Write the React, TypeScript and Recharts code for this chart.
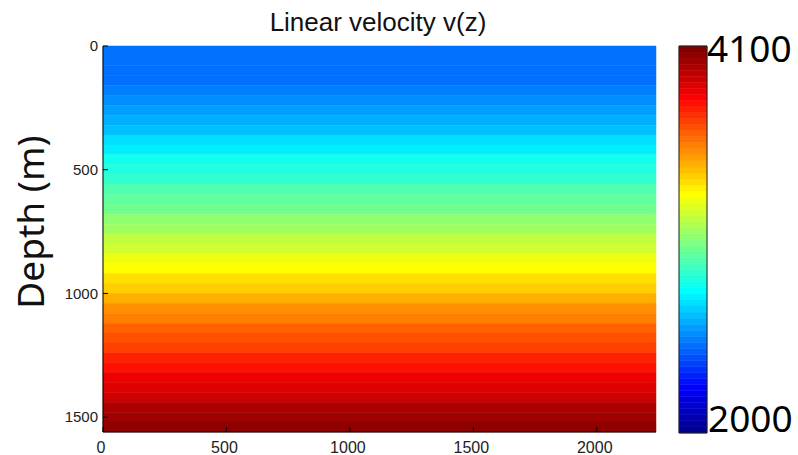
import React from 'react';
import { ComposedChart, XAxis, YAxis, ReferenceArea } from 'recharts';

const xTicks = [0, 500, 1000, 1500, 2000];
const depthTicks = [0, 500, 1000, 1500];
const colorbarTicks = [2200, 2400, 2600, 2800, 3000, 3200, 3400, 3600, 3800, 4000];
const xMax = 2240;
const depthMax = 1560;
const vMin = 2000;
const vMax = 4100;

// top of each 40 m layer (m)
const layerTops = [
  0, 40, 80, 120, 160, 200, 240, 280, 320, 360, 400, 440, 480,
  520, 560, 600, 640, 680, 720, 760, 800, 840, 880, 920, 960, 1000,
  1040, 1080, 1120, 1160, 1200, 1240, 1280, 1320, 1360, 1400, 1440, 1480, 1520,
];
// velocity read at the middle of each layer (m/s)
const layerVelocity = [
  2490, 2490, 2490, 2490, 2500, 2530, 2570, 2610, 2650, 2700, 2745, 2790, 2830,
  2875, 2920, 2965, 3010, 3060, 3110, 3160, 3210, 3260, 3310, 3360, 3410, 3460,
  3510, 3560, 3610, 3660, 3705, 3750, 3800, 3845, 3890, 3935, 3980, 4020, 4065,
];

// jet(64) colormap
function jetColor(v: number) {
  const idx = Math.min(63, Math.max(0, Math.floor(((v - vMin) / (vMax - vMin)) * 64)));
  const x = (idx + 1) / 64;
  const c = (a: number) => Math.round(255 * Math.min(1, Math.max(0, 1.5 - Math.abs(4 * x - a))));
  return `rgb(${c(3)},${c(2)},${c(1)})`;
}

const layers = layerTops.map((top, i) => ({
  top,
  bottom: i < layerTops.length - 1 ? layerTops[i + 1] : depthMax,
  v: layerVelocity[i],
}));

const colorLevels = Array.from({ length: 64 }, (_, i) => ({
  lo: vMin + (i * (vMax - vMin)) / 64,
  hi: vMin + ((i + 1) * (vMax - vMin)) / 64,
}));

const tickFont = '"Liberation Sans", Arial, sans-serif';
const bigFont = '"Noto Sans", "Open Sans", sans-serif';

const BottomTick = ({ x, y, payload }: any) => (
  <g>
    <line x1={x} y1={y} x2={x} y2={y - 5} stroke="#000" />
    <text x={x - 2} y={y + 21} textAnchor="middle" fontSize={16} fontFamily={tickFont} fill="#222">
      {payload.value}
    </text>
  </g>
);

const TopTick = ({ x, y }: any) => <line x1={x} y1={y} x2={x} y2={y + 5} stroke="#000" />;

const LeftTick = ({ x, y, payload }: any) => (
  <g>
    <line x1={x} y1={y} x2={x + 5} y2={y} stroke="#000" />
    <text x={x - 5} y={y} dy="0.35em" textAnchor="end" fontSize={15} fontFamily={tickFont} fill="#222">
      {payload.value}
    </text>
  </g>
);

const RightTick = ({ x, y }: any) => <line x1={x} y1={y} x2={x - 5} y2={y} stroke="#000" />;

export default function App() {
  return (
    <div style={{ position: 'absolute', left: 0, top: 0, width: 798, height: 455, background: '#fff' }}>
      <div style={{ position: 'absolute', left: 0, top: 0 }}>
        <ComposedChart width={798} height={455} data={layers} margin={{ top: 46, right: 142, bottom: 0, left: 53 }}>
          {layers.map((l, i) => (
            <ReferenceArea
              key={i}
              x1={0}
              x2={xMax}
              y1={l.top}
              y2={l.bottom}
              fill={jetColor(l.v)}
              fillOpacity={1}
              stroke={jetColor(l.v)}
              strokeWidth={0.5}
            />
          ))}
          <XAxis type="number" dataKey="v" domain={[0, xMax]} ticks={xTicks} allowDataOverflow height={23}
            tickSize={0} tickMargin={0} tickLine={false} axisLine={{ stroke: '#000' }} tick={<BottomTick />} interval={0} />
          <XAxis xAxisId="top" orientation="top" type="number" domain={[0, xMax]} ticks={xTicks} allowDataOverflow height={0}
            tickSize={0} tickMargin={0} tickLine={false} axisLine={{ stroke: '#000' }} tick={<TopTick />} interval={0} />
          <YAxis type="number" dataKey="top" domain={[0, depthMax]} reversed ticks={depthTicks} allowDataOverflow width={50}
            tickSize={0} tickMargin={0} tickLine={false} axisLine={{ stroke: '#000' }} tick={<LeftTick />} interval={0} />
          <YAxis yAxisId="right" orientation="right" type="number" domain={[0, depthMax]} reversed ticks={depthTicks} allowDataOverflow width={0}
            tickSize={0} tickMargin={0} tickLine={false} axisLine={{ stroke: '#000' }} tick={<RightTick />} interval={0} />
        </ComposedChart>
      </div>

      <div style={{ position: 'absolute', left: 670, top: 0 }}>
        <ComposedChart width={40} height={455} data={colorLevels} margin={{ top: 46, right: 3, bottom: 22, left: 9 }}>
          {colorLevels.map((c, i) => (
            <ReferenceArea
              key={i}
              x1={0}
              x2={1}
              y1={c.lo}
              y2={c.hi}
              fill={jetColor((c.lo + c.hi) / 2)}
              fillOpacity={1}
              stroke={jetColor((c.lo + c.hi) / 2)}
              strokeWidth={0.5}
            />
          ))}
          <ReferenceArea x1={0} x2={1} y1={vMin} y2={vMax} fill="none" stroke="#222" strokeWidth={1} />
          <XAxis type="number" dataKey="lo" domain={[0, 1]} hide allowDataOverflow />
          <YAxis orientation="right" type="number" dataKey="lo" domain={[vMin, vMax]} ticks={colorbarTicks} allowDataOverflow width={0}
            tickSize={0} tickMargin={0} tickLine={false} axisLine={false} tick={<RightTick />} interval={0} />
        </ComposedChart>
      </div>

      <svg width={798} height={455} style={{ position: 'absolute', left: 0, top: 0, pointerEvents: 'none' }}>
        <text x={378} y={31} textAnchor="middle" fontSize={26} fontFamily={tickFont} fill="#111">
          Linear velocity v(z)
        </text>
        <text x={44} y={222} textAnchor="middle" fontSize={37} fontFamily={bigFont} fill="#111"
          transform="rotate(-90 44 222)">
          Depth (m)
        </text>
        <text x={707} y={62} fontSize={37} fontFamily={bigFont} fill="#000">4100</text>
        <text x={708} y={432} fontSize={37} fontFamily={bigFont} fill="#000">2000</text>
      </svg>
    </div>
  );
}
